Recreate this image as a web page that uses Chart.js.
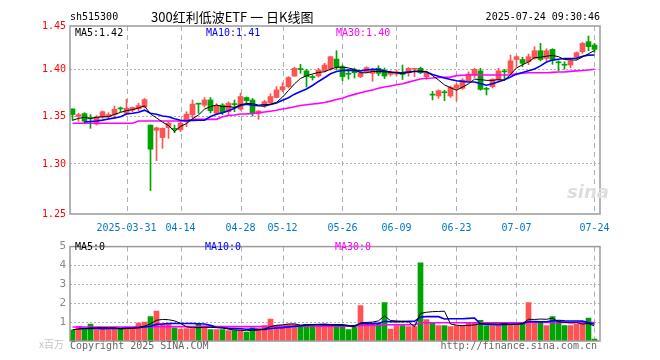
<!DOCTYPE html>
<html>
<head>
<meta charset="utf-8">
<script src="https://cdn.jsdelivr.net/npm/chart.js@4/dist/chart.umd.min.js"></script>
<style>
  body { margin: 0; background: #fff; }
  #wrap { position: relative; width: 660px; height: 360px; overflow: hidden;
          font-family: "DejaVu Sans Mono", monospace; font-size: 10px; }
  .t { position: absolute; white-space: nowrap; line-height: 12px; }
  canvas { position: absolute; left: 0; }
</style>
</head>
<body>
<div id="wrap">
  <canvas id="main" width="660" height="236" style="top:0"></canvas>
  <canvas id="vol" width="660" height="124" style="top:236px"></canvas>

  <div class="t" style="left:70px;top:11px;color:#000">sh515300</div>
  <div class="t" style="left:151px;top:8px;font:13px 'Noto Sans CJK SC';line-height:17px;color:#000">300红利低波ETF 一 日K线图</div>
  <div class="t" style="right:60px;top:11px;color:#000">2025-07-24 09:30:46</div>

  <div class="t" style="left:75px;top:27px;color:#000">MA5:1.42</div>
  <div class="t" style="left:206px;top:27px;color:#00f">MA10:1.41</div>
  <div class="t" style="left:336px;top:27px;color:#f0f">MA30:1.40</div>

  <div class="t" style="left:567px;top:181px;font:italic bold 18px 'DejaVu Sans';color:#dedede">sina</div>

  <div class="t" style="left:75px;top:241px;color:#000">MA5:0</div>
  <div class="t" style="left:205px;top:241px;color:#00f">MA10:0</div>
  <div class="t" style="left:335px;top:241px;color:#f0f">MA30:0</div>

  <div class="t" style="left:39px;top:336px;font:10px 'Noto Sans CJK SC';color:#c4c4c4">x百万</div>
  <div class="t" style="left:70px;top:340px;color:#666">Copyright 2025 SINA.COM</div>
  <div class="t" style="right:63px;top:340px;color:#666">http://finance.sina.com.cn</div>
</div>

<script>
// trading days shown
const dates = [
  "2025-03-18","2025-03-19","2025-03-20","2025-03-21","2025-03-24","2025-03-25","2025-03-26","2025-03-27","2025-03-28",
  "2025-03-31","2025-04-01","2025-04-02","2025-04-03","2025-04-07","2025-04-08","2025-04-09","2025-04-10","2025-04-11",
  "2025-04-14","2025-04-15","2025-04-16","2025-04-17","2025-04-18","2025-04-21","2025-04-22","2025-04-23","2025-04-24","2025-04-25",
  "2025-04-28","2025-04-29","2025-04-30","2025-05-06","2025-05-07","2025-05-08","2025-05-09",
  "2025-05-12","2025-05-13","2025-05-14","2025-05-15","2025-05-16","2025-05-19","2025-05-20","2025-05-21","2025-05-22","2025-05-23",
  "2025-05-26","2025-05-27","2025-05-28","2025-05-29","2025-05-30","2025-06-03","2025-06-04","2025-06-05","2025-06-06",
  "2025-06-09","2025-06-10","2025-06-11","2025-06-12","2025-06-13","2025-06-16","2025-06-17","2025-06-18","2025-06-19","2025-06-20",
  "2025-06-23","2025-06-24","2025-06-25","2025-06-26","2025-06-27","2025-06-30","2025-07-01","2025-07-02","2025-07-03","2025-07-04",
  "2025-07-07","2025-07-08","2025-07-09","2025-07-10","2025-07-11","2025-07-14","2025-07-15","2025-07-16","2025-07-17","2025-07-18",
  "2025-07-21","2025-07-22","2025-07-23","2025-07-24"
];

const opens = [
  1.358,1.350,1.353,1.3485,1.342,1.3495,1.350,1.352,1.3585,1.3533,
  1.3568,1.358,1.360,1.341,1.3355,1.3278,1.3382,1.3375,1.336,1.3445,
  1.3516,1.3632,1.362,1.3674,1.3533,1.3621,1.355,1.3635,1.3578,1.370,
  1.3674,1.3535,1.361,1.364,1.370,1.378,1.3814,1.3926,1.4005,1.398,
  1.3915,1.3926,1.398,1.400,1.4105,1.4025,1.395,1.3997,1.392,1.397,
  1.3955,1.4007,1.398,1.3944,1.3948,1.3948,1.396,1.3997,1.4007,1.392,
  1.373,1.3716,1.3757,1.3716,1.3797,1.3797,1.3877,1.3937,1.398,1.379,
  1.3814,1.389,1.3975,1.3955,1.410,1.410,1.4077,1.4112,1.4193,1.4112,
  1.4207,1.407,1.4045,1.4042,1.4123,1.4182,1.4288,1.4253
];
const closes = [
  1.352,1.352,1.345,1.3475,1.349,1.355,1.352,1.3575,1.358,1.3586,
  1.3595,1.3615,1.3678,1.3155,1.338,1.3375,1.343,1.3365,1.343,1.3525,
  1.363,1.3630,1.3674,1.356,1.361,1.354,1.364,1.3625,1.371,1.3667,
  1.354,1.3558,1.3656,1.371,1.378,1.3814,1.391,1.4007,1.3995,1.392,
  1.391,1.399,1.4042,1.413,1.402,1.392,1.3945,1.3961,1.396,1.4014,
  1.399,1.3955,1.3926,1.3965,1.397,1.3942,1.4007,1.4005,1.396,1.396,
  1.3725,1.3772,1.375,1.3807,1.3832,1.3884,1.3947,1.3997,1.3786,1.3786,
  1.389,1.398,1.397,1.4087,1.413,1.406,1.413,1.4193,1.410,1.4193,
  1.410,1.4065,1.404,1.4087,1.4172,1.427,1.4235,1.4207
];
const highs = [
  1.358,1.3535,1.354,1.352,1.351,1.356,1.354,1.361,1.360,1.368,
  1.360,1.364,1.369,1.341,1.339,1.338,1.344,1.341,1.345,1.355,
  1.3674,1.3632,1.370,1.370,1.3635,1.3635,1.3655,1.3674,1.3745,1.3706,
  1.369,1.356,1.367,1.374,1.3815,1.3856,1.392,1.402,1.405,1.3997,
  1.3937,1.4007,1.406,1.4135,1.4193,1.4042,1.3997,1.401,1.397,1.4025,
  1.4007,1.4035,1.401,1.398,1.399,1.4042,1.4014,1.4007,1.402,1.397,
  1.3765,1.378,1.3776,1.382,1.385,1.390,1.397,1.4007,1.4007,1.3807,
  1.390,1.4007,1.3997,1.4147,1.4137,1.4123,1.4158,1.4235,1.427,1.4214,
  1.4214,1.4087,1.4077,1.410,1.418,1.428,1.4347,1.427
];
const lows = [
  1.346,1.345,1.343,1.3375,1.341,1.348,1.347,1.348,1.355,1.352,
  1.355,1.356,1.359,1.272,1.3035,1.3165,1.327,1.333,1.334,1.3393,
  1.348,1.3533,1.360,1.3537,1.352,1.352,1.352,1.355,1.3565,1.3625,
  1.3505,1.347,1.3595,1.3625,1.3695,1.3761,1.380,1.392,1.3955,1.381,
  1.3884,1.3915,1.397,1.3986,1.399,1.3877,1.3892,1.3905,1.391,1.396,
  1.387,1.393,1.390,1.3926,1.3925,1.389,1.3923,1.392,1.395,1.389,
  1.3675,1.369,1.3667,1.370,1.3665,1.3786,1.387,1.391,1.3776,1.3726,
  1.380,1.388,1.390,1.3937,1.4018,1.4025,1.4046,1.4102,1.4087,1.4088,
  1.4049,1.398,1.3997,1.4014,1.410,1.4165,1.4193,1.4175
];

const ma5 = [
  1.346,1.348,1.349,1.348,1.3491,1.3497,1.3497,1.3522,1.3543,1.3562,
  1.3571,1.359,1.3611,1.3526,1.3485,1.3441,1.3404,1.3341,1.3396,1.3425,
  1.3476,1.3516,1.3578,1.3604,1.3621,1.3603,1.3605,1.3595,1.3625,1.3636,
  1.3636,1.362,1.3626,1.3626,1.3649,1.3704,1.3774,1.3844,1.3901,1.3929,
  1.3948,1.3964,1.3971,1.3998,1.4018,1.402,1.4011,1.3995,1.3961,1.396,
  1.3974,1.3976,1.3969,1.397,1.3961,1.3952,1.3962,1.3978,1.3977,1.3975,
  1.3931,1.3884,1.3833,1.3803,1.3777,1.3809,1.3844,1.3893,1.3889,1.388,
  1.3881,1.3888,1.3882,1.3943,1.4011,1.4045,1.4075,1.412,1.4123,1.4135,
  1.4143,1.413,1.41,1.4097,1.4093,1.4127,1.4161,1.4194
];
const ma10 = [
  null,null,1.3442,1.3447,1.3453,1.3462,1.3474,1.3485,1.3498,1.3527,
  1.3534,1.3544,1.3567,1.3535,1.3524,1.3506,1.3497,1.3476,1.3461,1.3455,
  1.3459,1.346,1.346,1.35,1.3523,1.354,1.3561,1.3587,1.3615,1.3629,
  1.362,1.3613,1.3611,1.3626,1.3643,1.367,1.3697,1.3735,1.3764,1.3789,
  1.3826,1.3869,1.3908,1.395,1.3974,1.3984,1.3988,1.3983,1.398,1.3989,
  1.3997,1.3994,1.3982,1.3966,1.3961,1.3963,1.3969,1.3974,1.3974,1.3968,
  1.3942,1.3923,1.3906,1.389,1.3876,1.387,1.3864,1.3863,1.3846,1.3829,
  1.3845,1.3866,1.3888,1.3916,1.3946,1.3963,1.3982,1.4001,1.4033,1.4073,
  1.4094,1.4103,1.411,1.411,1.4114,1.4135,1.4146,1.4147
];
const ma30 = [
  1.3428,1.3428,1.3428,1.3428,1.3428,1.3428,1.3428,1.3428,1.3428,1.3428,
  1.3428,1.3452,1.3452,1.3452,1.3452,1.3452,1.3452,1.3452,1.3452,1.3452,
  1.347,1.347,1.347,1.347,1.347,1.3498,1.351,1.3515,1.3526,1.3528,
  1.3532,1.3538,1.3548,1.3556,1.3565,1.3578,1.359,1.3602,1.3615,1.3624,
  1.3632,1.3638,1.3648,1.3662,1.3678,1.3693,1.3715,1.3733,1.375,1.3765,
  1.3778,1.3797,1.381,1.3822,1.3834,1.3845,1.3862,1.3878,1.3895,1.3902,
  1.3905,1.391,1.3912,1.3915,1.393,1.3935,1.3937,1.3937,1.3937,1.3937,
  1.3937,1.3937,1.3937,1.3937,1.395,1.3955,1.396,1.396,1.396,1.396,
  1.3965,1.3968,1.397,1.3975,1.398,1.3985,1.399,1.3997
];

// volume, x百万
const volumes = [
  0.58,0.76,0.66,0.9,0.6,0.66,0.66,0.66,0.66,0.66,
  0.66,0.95,1.0,1.29,1.59,0.88,0.88,0.7,0.63,0.66,
  0.66,0.88,0.8,0.6,0.6,0.6,0.55,0.55,0.55,0.46,
  0.7,0.66,0.82,1.16,0.82,0.82,0.88,0.88,0.82,0.88,
  0.88,0.8,0.88,0.88,0.82,0.8,0.6,0.72,1.87,0.93,
  0.88,0.93,2.04,0.63,0.82,0.82,0.76,0.76,4.14,1.13,
  0.98,0.82,0.82,0.76,0.82,0.82,0.93,0.93,1.09,0.8,
  0.8,0.88,0.98,0.88,0.88,0.98,2.04,0.93,0.98,0.82,
  1.29,1.04,0.82,0.82,0.88,0.93,1.21,0.1
];
const volMa5 = [
  0.6,0.63,0.66,0.68,0.70,0.716,0.696,0.696,0.648,0.66,
  0.66,0.718,0.786,0.912,1.098,1.142,1.128,1.068,0.936,0.75,
  0.706,0.706,0.726,0.72,0.708,0.696,0.63,0.58,0.57,0.542,
  0.562,0.584,0.638,0.76,0.832,0.856,0.9,0.912,0.844,0.856,
  0.868,0.852,0.852,0.864,0.852,0.836,0.796,0.764,0.962,0.984,
  1.0,1.066,1.33,1.082,1.06,1.048,1.014,0.758,1.46,1.522,
  1.554,1.566,1.578,0.902,0.84,0.808,0.83,0.852,0.918,0.914,
  0.91,0.9,0.91,0.868,0.884,0.92,1.152,1.142,1.162,1.15,
  1.212,1.012,0.99,0.958,0.97,0.898,0.932,0.788
];
const volMa10 = [
  null,0.66,0.66,0.66,0.66,0.658,0.663,0.678,0.664,0.68,
  0.688,0.707,0.741,0.78,0.879,0.901,0.923,0.927,0.924,0.924,
  0.924,0.917,0.897,0.828,0.729,0.701,0.668,0.653,0.645,0.625,
  0.629,0.607,0.609,0.665,0.687,0.709,0.742,0.775,0.802,0.844,
  0.862,0.876,0.882,0.854,0.854,0.852,0.824,0.808,0.913,0.918,
  0.918,0.931,1.047,1.022,1.022,1.024,1.04,1.044,1.271,1.291,
  1.301,1.29,1.168,1.181,1.181,1.181,1.198,1.215,0.91,0.877,
  0.859,0.865,0.881,0.893,0.899,0.915,1.026,1.026,1.015,1.017,
  1.066,1.082,1.066,1.06,1.06,1.055,0.972,0.889
];
const volMa30 = [
  0.74,0.74,0.74,0.74,0.74,0.74,0.74,0.74,0.74,0.74,
  0.74,0.76,0.76,0.76,0.76,0.76,0.76,0.76,0.76,0.76,
  0.76,0.76,0.76,0.76,0.76,0.76,0.76,0.76,0.76,0.76,
  0.76,0.76,0.76,0.78,0.78,0.78,0.78,0.78,0.78,0.78,
  0.78,0.78,0.78,0.78,0.78,0.78,0.78,0.78,0.82,0.82,
  0.82,0.82,0.86,0.86,0.86,0.86,0.86,0.86,0.97,0.97,
  0.97,0.97,0.97,0.97,0.97,0.97,0.97,0.97,0.97,0.97,
  0.97,0.97,0.97,0.97,0.97,0.97,1.0,1.0,1.0,0.98,
  0.98,0.98,0.98,0.98,0.98,0.98,0.98,0.98
];

const tickDates = ["2025-03-31","2025-04-14","2025-04-28","2025-05-12","2025-05-26","2025-06-09","2025-06-23","2025-07-07","2025-07-24"];
const tickLabels = ["2025-03-31","04-14","04-28","05-12","05-26","06-09","06-23","07-07","07-24"];
const priceLabels = ["1.25","1.30","1.35","1.40","1.45"];
const volLabels = ["1","2","3","4","5"];

const RED = "#ff5353";
const GREEN = "#00a400";
const GRID = "#b0b0b0";
const FONT = { family: "DejaVu Sans Mono", size: 10 };

const idx = dates.map((d, i) => i);
const barColors = idx.map(i => closes[i] >= opens[i] ? RED : GREEN);
const pts = arr => idx.map(i => ({ x: i, y: arr[i] }));

// dashed date lines (slid in behind what is drawn already) and the frame
const framePlugin = {
  id: "frame",
  afterDraw(chart) {
    const { ctx, chartArea: a } = chart;
    const sx = chart.scales.x;
    ctx.save();
    ctx.globalCompositeOperation = "destination-over";
    ctx.strokeStyle = GRID;
    ctx.lineWidth = 1;
    ctx.setLineDash([5, 4]);
    for (const t of sx.ticks) {
      const x = Math.round(sx.getPixelForValue(t.value)) + 0.5;
      ctx.beginPath();
      ctx.moveTo(x, a.top);
      ctx.lineTo(x, a.bottom);
      ctx.stroke();
    }
    ctx.restore();

    ctx.save();
    ctx.strokeStyle = "#9a9a9a";
    ctx.lineWidth = 1.5;
    ctx.strokeRect(a.left, a.top, a.right - a.left, a.bottom - a.top);
    ctx.restore();
  }
};

const xScale = (showLabels) => ({
  type: "linear",
  offset: false,
  min: -0.4167,
  max: 87.9167,
  afterBuildTicks(s) { s.ticks = tickDates.map(d => ({ value: dates.indexOf(d) })); },
  afterFit(s) { s.height = showLabels ? 22 : 0; },
  ticks: { display: showLabels, autoSkip: false, maxRotation: 0, padding: 8,
           color: "#0078c8", font: FONT, callback: (v, i) => tickLabels[i] },
  grid: { display: false, drawTicks: false, offset: false },
  border: { display: false }
});

const lineDs = (arr, color, w) => ({
  type: "line", data: pts(arr), borderColor: color, borderWidth: w,
  pointRadius: 0, tension: 0, order: 0
});

new Chart(document.getElementById("main"), {
  type: "bar",
  data: {
    datasets: [
      lineDs(ma5, "#000000", 1),
      lineDs(ma10, "#0000ff", 1.6),
      lineDs(ma30, "#ff00ff", 1.6),
      { data: idx.map(i => ({ x: i, y: [opens[i], closes[i]] })), backgroundColor: barColors,
        barThickness: 5, minBarLength: 1, grouped: false, borderWidth: 0, order: 1 },
      { data: idx.map(i => ({ x: i, y: [lows[i], highs[i]] })), backgroundColor: barColors,
        barThickness: 1, grouped: false, borderWidth: 0, order: 2 }
    ]
  },
  options: {
    responsive: false,
    animation: false,
    layout: { padding: { top: 26, right: 60, bottom: 0, left: 0 } },
    plugins: { legend: { display: false }, tooltip: { enabled: false } },
    scales: {
      x: xScale(true),
      y: {
        min: 1.2473, max: 1.4453,
        afterBuildTicks(s) { s.ticks = [s.min, 1.30, 1.35, 1.40, s.max].map(v => ({ value: v })); },
        afterFit(s) { s.width = 70; },
        ticks: { color: "#ff0000", font: FONT, padding: 4, callback: (v, i) => priceLabels[i] },
        grid: { drawTicks: false, lineWidth: 1,
                color: c => (c.index === 0 || c.index === 4) ? "rgba(0,0,0,0)" : GRID },
        border: { display: false, dash: [2, 2] }
      }
    }
  },
  plugins: [framePlugin]
});

new Chart(document.getElementById("vol"), {
  type: "bar",
  data: {
    datasets: [
      lineDs(volMa5, "#000000", 1),
      lineDs(volMa10, "#0000ff", 1.6),
      lineDs(volMa30, "#ff00ff", 1.6),
      { data: pts(volumes), backgroundColor: barColors, barThickness: 5,
        grouped: false, borderWidth: 0, order: 1 }
    ]
  },
  options: {
    responsive: false,
    animation: false,
    layout: { padding: { top: 4, right: 60, bottom: 19, left: 0 } },
    plugins: { legend: { display: false }, tooltip: { enabled: false } },
    scales: {
      x: xScale(false),
      y: {
        min: 0, max: 5,
        afterBuildTicks(s) { s.ticks = [1, 2, 3, 4, 5].map(v => ({ value: v })); },
        afterFit(s) { s.width = 70; },
        ticks: { color: "#8a8a8a", font: { family: "DejaVu Sans Mono", size: 11 }, padding: 4,
                 callback: (v, i) => volLabels[i] },
        grid: { drawTicks: false, lineWidth: 1, color: c => c.index === 4 ? "rgba(0,0,0,0)" : GRID },
        border: { display: false, dash: [2, 2] }
      }
    }
  },
  plugins: [framePlugin]
});
</script>
</body>
</html>
